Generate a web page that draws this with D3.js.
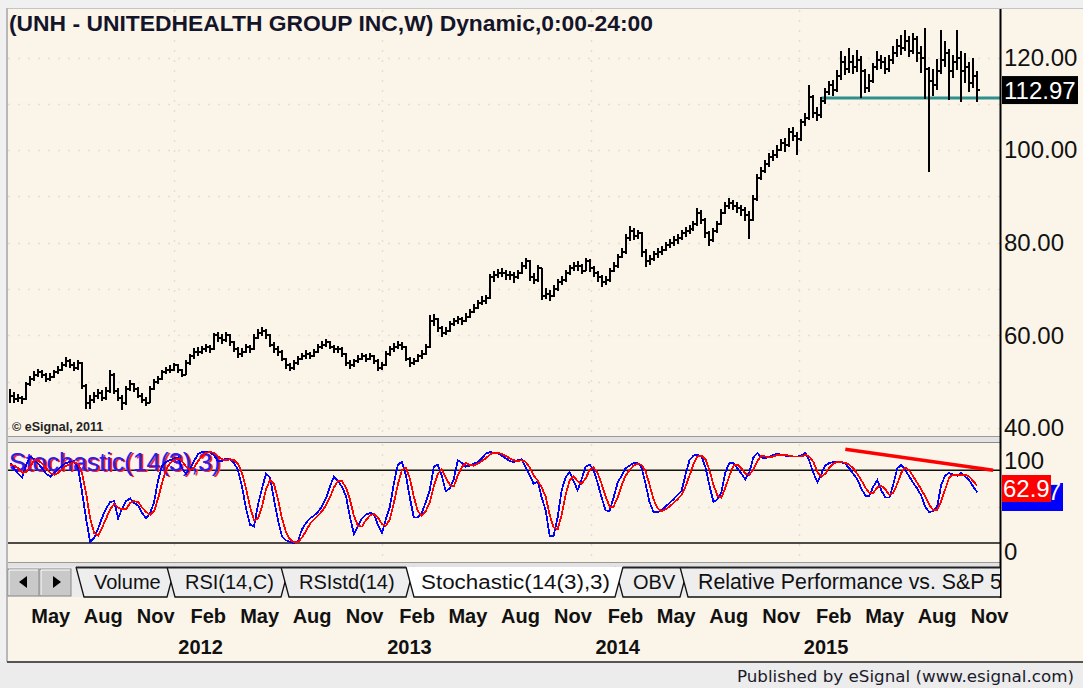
<!DOCTYPE html>
<html><head><meta charset="utf-8">
<script src="https://cdn.jsdelivr.net/npm/d3@7"></script>
<style>
html,body{margin:0;padding:0;background:#f0f0f0;}
svg{display:block;}
</style></head>
<body>
<svg id="chart" width="1083" height="688"></svg>
<script>
// ---------------- DATA ----------------
const firstWeek = "2011-03-21";          // Monday of first weekly bar
const closes = [
47.0,46.3,46.5,46.2,49.5,50.5,51.5,52.0,51.5,50.5,
51.0,52.0,52.5,53.5,54.5,53.5,53.0,54.0,49.0,45.5,
46.0,47.0,47.5,46.5,48.0,51.5,48.0,46.5,45.5,48.5,
49.5,48.5,47.0,46.0,45.5,48.5,50.0,50.5,52.0,52.5,
52.5,53.5,52.5,51.5,54.0,55.5,56.5,56.5,57.0,57.5,
57.0,60.0,59.5,59.0,60.0,58.5,57.0,56.0,56.5,57.5,
57.0,59.5,60.5,61.0,60.0,58.0,57.0,56.5,55.0,53.5,
53.0,54.0,55.0,55.5,56.0,55.5,56.5,57.5,58.0,58.5,
57.5,57.0,57.0,56.0,54.0,53.5,54.5,55.0,55.5,55.0,
55.5,54.5,53.0,53.5,56.0,57.0,57.5,58.0,57.5,55.0,
54.0,54.5,55.5,56.0,57.5,63.0,63.5,61.5,60.5,61.0,
62.5,63.0,63.5,63.0,64.0,65.0,66.0,67.0,67.5,68.0,
72.5,73.0,73.5,73.5,73.0,73.0,72.5,73.5,75.0,76.0,
72.5,72.0,74.5,68.5,69.0,68.5,70.0,71.5,72.0,73.5,
74.5,75.0,75.0,74.0,76.0,74.5,73.5,72.5,71.5,72.0,
74.0,75.0,77.0,78.0,81.0,82.5,81.5,82.0,78.0,76.0,
76.5,77.5,78.0,78.5,79.5,80.0,80.5,81.0,82.0,82.5,
83.0,84.0,86.5,85.0,82.0,80.5,82.5,84.0,86.5,88.0,
88.5,88.0,87.5,87.0,86.0,85.0,89.5,94.0,95.5,97.0,
98.5,99.0,100.0,101.5,101.0,104.0,103.0,102.5,106.0,107.0,
111.5,108.0,107.5,110.5,112.5,114.0,113.0,116.0,119.0,117.5,
119.0,118.0,119.5,117.0,113.5,115.0,118.0,119.5,119.0,117.5,
119.5,121.0,122.5,122.0,123.5,121.5,124.0,121.0,120.0,117.5,
115.0,114.0,117.0,119.5,121.0,117.0,119.0,120.0,117.0,118.0,
114.5,116.0,112.97];
const highs = [
48.5,47.8,47.3,47.0,50.0,51.2,52.2,52.8,52.6,51.8,
51.8,52.6,53.3,54.2,55.3,55.0,54.2,54.6,54.2,49.5,
47.2,47.8,48.5,48.2,48.8,52.6,51.8,48.6,47.2,49.0,
50.3,49.8,48.8,47.5,46.6,49.0,50.6,51.2,52.6,53.2,
53.5,54.0,53.8,52.8,54.6,56.0,57.2,57.4,57.8,58.2,
58.0,60.6,60.8,60.2,60.8,60.2,58.8,57.4,57.2,58.2,
58.0,60.3,61.3,61.8,61.4,60.2,58.5,57.6,56.8,55.2,
54.0,54.6,55.6,56.2,56.8,56.5,57.0,58.2,58.8,59.2,
58.8,58.0,57.8,57.4,56.2,54.6,55.0,55.8,56.2,56.0,
56.3,55.8,54.8,54.2,56.6,57.8,58.3,58.8,58.6,57.8,
55.4,55.2,56.0,56.8,58.2,64.3,64.6,63.8,62.0,61.8,
63.2,63.8,64.2,64.0,64.8,65.6,66.8,67.6,68.4,68.8,
73.2,74.0,74.3,74.6,74.2,73.8,73.6,74.2,75.8,76.8,
76.2,73.4,75.2,74.6,70.2,69.8,70.8,72.2,72.8,74.2,
75.2,75.8,76.0,75.4,76.8,76.4,75.0,74.0,73.0,72.8,
74.6,75.8,77.6,78.8,81.8,83.6,83.2,82.8,82.4,78.6,
77.4,78.2,78.8,79.4,80.2,80.8,81.4,81.8,82.8,83.4,
83.8,84.8,87.6,87.0,85.4,82.6,83.2,84.8,87.2,88.8,
89.6,89.2,88.8,88.2,87.8,86.8,90.4,94.8,96.4,97.8,
99.4,100.0,101.0,102.4,102.6,104.8,105.0,104.0,106.8,108.0,
114.0,111.8,109.4,111.4,113.4,115.0,115.2,117.2,121.5,120.4,
122.0,120.6,121.6,120.4,117.6,116.4,118.8,121.4,120.6,120.2,
120.6,122.4,124.0,124.8,126.0,124.6,125.2,124.6,122.4,126.4,
118.0,117.6,119.6,126.0,123.6,121.8,120.6,126.0,121.4,121.0,
119.0,119.8,117.0];
const lows = [
45.3,45.5,45.6,45.2,46.0,49.0,50.2,51.0,50.8,50.0,
50.2,50.8,51.6,52.3,53.2,53.0,52.2,52.6,48.4,44.0,
44.2,45.3,46.3,45.8,46.0,47.6,47.3,45.8,43.8,45.0,
48.0,47.8,46.5,45.4,44.8,45.3,48.3,49.5,50.3,51.6,
51.8,52.2,51.8,51.0,51.5,53.6,55.0,55.6,56.0,56.4,
56.3,56.8,58.6,58.2,58.6,57.8,56.4,55.2,55.4,56.2,
56.3,56.8,59.2,59.8,59.3,57.4,56.2,55.5,54.4,52.8,
52.2,52.6,53.6,54.6,55.0,54.8,55.3,56.3,57.0,57.5,
57.0,56.3,56.2,55.4,53.4,52.8,53.2,54.0,54.6,54.2,
54.6,53.8,52.3,52.5,53.3,55.6,56.5,57.0,56.8,54.4,
53.2,53.6,54.2,55.0,55.8,57.3,62.0,60.8,59.6,60.0,
60.8,62.0,62.5,62.2,62.8,63.8,64.8,65.8,66.5,66.8,
67.8,71.6,72.4,72.6,72.0,72.0,71.4,72.2,73.2,74.4,
71.8,71.0,71.6,67.6,67.8,67.4,68.2,69.6,70.8,71.6,
73.0,73.8,74.0,73.2,73.8,73.6,72.6,71.6,70.4,70.8,
71.6,73.6,74.6,76.6,77.6,80.4,80.6,80.8,77.0,74.8,
75.2,76.0,76.8,77.4,78.2,78.8,79.4,79.8,80.6,81.2,
81.8,82.6,83.6,84.0,81.0,79.4,80.2,82.2,83.8,86.2,
87.2,87.0,86.4,85.8,84.6,80.8,84.6,89.0,93.6,95.0,
96.4,97.6,98.4,99.8,99.6,100.6,102.0,99.0,102.0,105.2,
106.4,107.0,106.2,107.0,110.0,111.8,111.6,112.6,115.2,116.2,
116.6,116.4,116.8,111.3,112.4,112.6,114.4,117.2,117.6,116.4,
116.8,118.6,120.2,120.6,121.4,120.2,120.8,119.0,116.6,111.0,
95.3,111.6,113.0,116.4,118.0,110.8,115.6,117.4,110.4,114.6,
112.6,113.4,110.3];
// Stochastic(14(3),3): %K (blue) and %D (red)
const stochK = [
88,82,76,72,86,95,92,87,82,76, 73,77,81,85,88,89,90,82,55,26,
1,6,16,28,38,45,46,27,38,46, 49,44,41,33,27,33,45,69,85,89,
91,93,94,82,76,82,90,98,100,100, 100,96,90,90,93,92,88,80,62,38,
20,18,42,60,76,72,48,25,7,3, 1,0,2,15,22,27,30,34,40,49,
62,73,68,62,52,29,10,18,27,31, 33,32,20,11,26,40,65,86,89,75,
50,28,28,33,45,58,84,86,74,57, 60,70,91,88,84,85,87,89,93,98,
100,99,99,96,93,90,89,91,92,83, 74,65,68,50,36,8,8,28,58,72,
78,68,58,70,84,86,80,66,50,36, 35,50,66,74,82,85,88,88,83,65,
45,34,34,36,40,44,48,53,57,75, 91,96,97,95,83,63,45,48,56,78,
88,88,82,76,70,78,94,99,94,93, 95,97,98,97,96,95,95,95,96,99,
90,77,67,76,85,88,89,89,89,87, 82,76,70,60,52,52,62,69,58,50,
50,64,82,86,80,73,66,60,52,40, 34,35,40,64,74,77,75,74,77,73,
69,62,55.7];
const stochD = [
86,85,82,77,78,84,91,91,87,82, 77,75,77,81,85,87,89,87,76,54,
27,11,8,17,27,37,43,39,37,37, 44,46,45,39,34,31,35,49,66,81,
88,91,93,90,84,80,83,90,96,99, 100,99,95,92,91,92,91,87,77,60,
40,25,27,40,59,69,65,48,27,12, 4,1,1,6,13,21,26,30,35,41,
50,61,68,68,61,48,30,19,18,25, 30,32,28,21,19,26,44,64,80,83,
71,51,35,30,35,45,62,76,81,72, 64,62,74,83,88,86,85,87,90,93,
97,99,99,98,96,93,91,90,91,89, 83,74,69,61,51,31,17,15,31,53,
69,73,68,65,71,80,83,77,65,51, 40,40,50,63,74,80,85,87,86,79,
64,48,38,35,37,40,44,48,53,62, 74,87,95,96,92,80,64,52,50,61,
74,85,86,82,76,75,81,90,96,95, 94,95,97,97,97,96,95,95,95,97,
95,89,78,73,76,83,87,89,89,88, 86,82,76,69,61,55,55,61,63,59,
53,55,65,77,83,80,73,66,59,51, 42,36,36,46,59,72,75,75,75,75,
73,68,62.9];
const priceTicks = [40, 60, 80, 100, 120];
const priceGrid = [40, 50, 60, 70, 80, 90, 100, 110, 120];
const stochTicks = [100, 0];
const stochLevels = [80, 0];
const stochGrid = [40];
const monthTicks = ["2011-05-01","2011-08-01","2011-11-01","2012-02-01","2012-05-01","2012-08-01","2012-11-01",
  "2013-02-01","2013-05-01","2013-08-01","2013-11-01","2014-02-01","2014-05-01","2014-08-01","2014-11-01",
  "2015-02-01","2015-05-01","2015-08-01","2015-11-01"];
const monthLabels = ["May","Aug","Nov","Feb","May","Aug","Nov","Feb","May","Aug","Nov","Feb","May","Aug","Nov","Feb","May","Aug","Nov"];
const yearTicks = ["2012-01-01","2013-01-01","2014-01-01","2015-01-01"];
const yearLabels = ["2012","2013","2014","2015"];
const supportLevel = 111.25;      // teal horizontal line
const supportFromWeek = 203;
const trendWeeks = [209, 246];    // red trend line on the stochastic
const trendValues = [103, 80];
const tabs = ["Volume","RSI(14,C)","RSIstd(14)","Stochastic(14(3),3)","OBV","Relative Performance vs. S&P 500"];
const activeTab = 3;
const title = "(UNH - UNITEDHEALTH GROUP INC,W) Dynamic,0:00-24:00";

// ---------------- LAYOUT ----------------
const W = 1083, H = 688;
const L = 8, R = 1000;
const priceTop = 10, priceBottom = 436;
const stochTop = 444, stochBottom = 563;
const tabY0 = 567, tabY1 = 597, slant = 8;
const tabLefts = [76, 167, 281, 406, 615, 680];
const cream = "#fbf5e9";
const font = "'Liberation Sans', Arial, sans-serif";

const parse = d3.utcParse("%Y-%m-%d");
const start = parse(firstWeek);
const dates = closes.map((_, i) => d3.utcMonday.offset(start, i));
const x = d3.scaleUtc().domain([parse("2011-03-17"), parse("2015-12-19")]).range([L, R]);
const y = d3.scaleLinear().domain([40, 120]).range([428, 57.5]);
const ys = d3.scaleLinear().domain([0, 100]).range([543, 452]);

const svg = d3.select("#chart");
svg.append("rect").attr("width", W).attr("height", H).attr("fill", "#f0f0f0");
svg.append("rect").attr("x", L).attr("y", 9).attr("width", W - L).attr("height", 653).attr("fill", cream);
svg.append("line").attr("x1", 6).attr("x2", W).attr("y1", 8.5).attr("y2", 8.5).attr("stroke", "#c4c4c4");
svg.append("line").attr("x1", 7).attr("x2", 7).attr("y1", 8).attr("y2", 662).attr("stroke", "#b8b8b8").attr("stroke-width", 2);

const defs = svg.append("defs");
defs.append("clipPath").attr("id", "cp").append("rect").attr("x", L).attr("y", priceTop).attr("width", R - L).attr("height", priceBottom - priceTop);
defs.append("clipPath").attr("id", "cs").append("rect").attr("x", L).attr("y", stochTop).attr("width", R - L).attr("height", stochBottom - stochTop);
defs.append("clipPath").attr("id", "ct").append("rect").attr("x", L).attr("y", tabY0 - 2).attr("width", R - L).attr("height", tabY1 - tabY0 + 4);

// ---- price panel ----
const gp = svg.append("g").attr("clip-path", "url(#cp)");
const gridStyle = s => s.attr("stroke", "#e4dfd4").attr("stroke-width", 1.5).attr("stroke-dasharray", "2,8");
gp.selectAll("line.hg").data(priceGrid).join("line").attr("class", "hg")
  .attr("x1", L).attr("x2", R).attr("y1", d => Math.round(y(d)) + 0.5).attr("y2", d => Math.round(y(d)) + 0.5).call(gridStyle);
gp.selectAll("line.vg").data(yearTicks.map(parse)).join("line").attr("class", "vg")
  .attr("x1", d => Math.round(x(d)) + 0.5).attr("x2", d => Math.round(x(d)) + 0.5).attr("y1", priceTop).attr("y2", priceBottom).call(gridStyle);

gp.append("line").attr("x1", x(dates[supportFromWeek])).attr("x2", R)
  .attr("y1", y(supportLevel)).attr("y2", y(supportLevel)).attr("stroke", "#2f8f8c").attr("stroke-width", 3);

const bars = gp.append("g").attr("stroke", "#000").attr("stroke-width", 2).attr("shape-rendering", "crispEdges");
dates.forEach((d, i) => {
  const cx = Math.round(x(d));
  bars.append("line").attr("x1", cx).attr("x2", cx).attr("y1", y(highs[i])).attr("y2", y(lows[i]));
  if (i > 0) bars.append("line").attr("x1", cx - 2).attr("x2", cx).attr("y1", Math.round(y(closes[i - 1]))).attr("y2", Math.round(y(closes[i - 1])));
  bars.append("line").attr("x1", cx).attr("x2", cx + 3).attr("y1", Math.round(y(closes[i]))).attr("y2", Math.round(y(closes[i])));
});

svg.append("text").attr("x", 9).attr("y", 31).attr("font-family", font).attr("font-weight", "bold")
  .attr("font-size", 22.4).attr("fill", "#14142a").attr("textLength", 644).attr("lengthAdjust", "spacingAndGlyphs").text(title);
svg.append("text").attr("x", 12).attr("y", 431).attr("font-family", font).attr("font-weight", "bold")
  .attr("font-size", 12.5).attr("fill", "#222").text("\u00A9 eSignal, 2011");

// separators
function splitter(y0) {
  svg.append("rect").attr("x", L).attr("y", y0).attr("width", R - L).attr("height", 7).attr("fill", "#e2e2e2");
  svg.append("line").attr("x1", L).attr("x2", R).attr("y1", y0 + 0.5).attr("y2", y0 + 0.5).attr("stroke", "#9a9a9a");
  svg.append("line").attr("x1", L).attr("x2", R).attr("y1", y0 + 6.5).attr("y2", y0 + 6.5).attr("stroke", "#8a8a8a");
}
splitter(priceBottom);

// ---- stochastic panel ----
const gs = svg.append("g").attr("clip-path", "url(#cs)");
gs.selectAll("line.hg").data(stochGrid).join("line").attr("class", "hg")
  .attr("x1", L).attr("x2", R).attr("y1", d => Math.round(ys(d)) + 0.5).attr("y2", d => Math.round(ys(d)) + 0.5).call(gridStyle);
gs.selectAll("line.vg").data(yearTicks.map(parse)).join("line").attr("class", "vg")
  .attr("x1", d => Math.round(x(d)) + 0.5).attr("x2", d => Math.round(x(d)) + 0.5).attr("y1", stochTop).attr("y2", stochBottom).call(gridStyle);
gs.selectAll("line.lvl").data(stochLevels).join("line").attr("class", "lvl")
  .attr("x1", L).attr("x2", R).attr("y1", d => ys(d)).attr("y2", d => ys(d)).attr("stroke", "#111").attr("stroke-width", 1.6);

// indicator name: red and blue copies overprinted, as in the source
const stochName = gs.append("g").attr("font-family", font).attr("font-size", 25);
stochName.append("text").attr("x", 11).attr("y", 472).attr("fill", "#ff2020").text("Stochastic(14(3),3)");
stochName.append("text").attr("x", 9).attr("y", 471).attr("fill", "#2020ff").text("Stochastic(14(3),3)");

const line = d3.line().x((d, i) => x(dates[i])).y(d => ys(d));
gs.append("path").datum(stochK).attr("d", line).attr("fill", "none").attr("stroke", "#0000ff").attr("stroke-width", 1.8).attr("shape-rendering", "crispEdges");
gs.append("path").datum(stochD).attr("d", line).attr("fill", "none").attr("stroke", "#ff0000").attr("stroke-width", 1.8).attr("shape-rendering", "crispEdges");
gs.append("line")
  .attr("x1", x(d3.utcMonday.offset(start, trendWeeks[0]))).attr("y1", ys(trendValues[0]))
  .attr("x2", x(d3.utcMonday.offset(start, trendWeeks[1]))).attr("y2", ys(trendValues[1]))
  .attr("stroke", "#ff0000").attr("stroke-width", 3.5);
splitter(stochBottom - 1);

// ---- right axes ----
svg.append("line").attr("x1", R + 0.5).attr("x2", R + 0.5).attr("y1", 9).attr("y2", tabY1 + 1).attr("stroke", "#000").attr("stroke-width", 2);
const ax = svg.append("g").attr("transform", `translate(${R},0)`)
  .call(d3.axisRight(y).tickValues(priceTicks).tickFormat(d3.format(".2f")).tickSize(0).tickPadding(4));
ax.select(".domain").remove();
ax.selectAll("text").attr("font-family", font).attr("font-size", 24).attr("fill", "#111");
const axs = svg.append("g").attr("transform", `translate(${R},0)`)
  .call(d3.axisRight(ys).tickValues(stochTicks).tickFormat(d3.format("d")).tickSize(0).tickPadding(4));
axs.select(".domain").remove();
axs.selectAll("text").attr("font-family", font).attr("font-size", 24).attr("fill", "#111").attr("dy", "0.68em");

// value boxes
const lastC = closes[closes.length - 1];
svg.append("rect").attr("x", R + 2).attr("y", y(lastC) - 14).attr("width", 76).attr("height", 28).attr("fill", "#000");
svg.append("text").attr("x", R + 4).attr("y", y(lastC) + 9).attr("font-family", font).attr("font-size", 24)
  .attr("fill", "#fff").text(d3.format(".2f")(lastC));
const lastK = stochK[stochK.length - 1], lastD = stochD[stochD.length - 1];
const kBox = svg.append("g");
kBox.append("rect").attr("x", R + 2).attr("y", 483).attr("width", 61).attr("height", 28).attr("fill", "#0000ff");
kBox.append("text").attr("x", R + 61).attr("y", 500).attr("text-anchor", "end").attr("font-family", font).attr("font-size", 24)
  .attr("fill", "#fff").text(d3.format(".1f")(lastK));
svg.append("rect").attr("x", R + 2).attr("y", 475).attr("width", 49).attr("height", 27).attr("fill", "#ff0000");
svg.append("text").attr("x", R + 3).attr("y", 497).attr("font-family", font).attr("font-size", 24)
  .attr("fill", "#fff").text(d3.format(".1f")(lastD));

// ---- tab bar ----
svg.append("rect").attr("x", L).attr("y", tabY0).attr("width", R - L).attr("height", tabY1 - tabY0).attr("fill", "#ebebeb");
const gt = svg.append("g").attr("clip-path", "url(#ct)");
const order = tabs.map((t, i) => i).filter(i => i !== activeTab).concat([activeTab]);
order.forEach(i => {
  const tl = tabLefts[i];
  const tr = i < tabs.length - 1 ? tabLefts[i + 1] + slant : R + 40;
  const act = i === activeTab;
  gt.append("path")
    .attr("d", `M${tl},${tabY0}L${tl + slant},${tabY1}L${tr - slant},${tabY1}L${tr},${tabY0}`)
    .attr("fill", act ? "#ffffff" : "#eeeeee").attr("stroke", "#111").attr("stroke-width", 1.3);
  const t = gt.append("text").attr("x", tl + (act ? 15 : 18)).attr("y", 589).attr("font-family", font)
    .attr("font-size", i === tabs.length - 1 ? 21.3 : 20).attr("fill", "#111").text(tabs[i]);
  if (act) t.attr("textLength", 189).attr("lengthAdjust", "spacingAndGlyphs");
});
gt.append("line").attr("x1", tabLefts[0]).attr("x2", tabLefts[activeTab]).attr("y1", tabY0 + 0.5).attr("y2", tabY0 + 0.5).attr("stroke", "#222").attr("stroke-width", 2);
gt.append("line").attr("x1", tabLefts[activeTab + 1] + slant).attr("x2", R).attr("y1", tabY0 + 0.5).attr("y2", tabY0 + 0.5).attr("stroke", "#222").attr("stroke-width", 2);
// scroll buttons
[8, 40].forEach(bx => {
  svg.append("rect").attr("x", bx).attr("y", 569).attr("width", 31).attr("height", 27).attr("fill", "#c9c9c9").attr("stroke", "#888");
  svg.append("path").attr("d", `M${bx + 1},595 L${bx + 1},570 L${bx + 30},570`).attr("fill", "none").attr("stroke", "#fff");
});
svg.append("path").attr("d", "M19,582 L27,576 L27,588 Z").attr("fill", "#000");
svg.append("path").attr("d", "M61,582 L53,576 L53,588 Z").attr("fill", "#000");

// ---- x axis labels ----
const gm = svg.append("g").attr("transform", "translate(17,0)");
gm.selectAll("text").data(monthTicks.map(parse)).join("text")
  .attr("x", d => x(d)).attr("y", 623).attr("text-anchor", "middle")
  .attr("font-family", font).attr("font-weight", "bold").attr("font-size", 20).attr("fill", "#111")
  .text((d, i) => monthLabels[i]);
const gy = svg.append("g").attr("transform", "translate(27,0)");
gy.selectAll("text").data(yearTicks.map(parse)).join("text")
  .attr("x", d => x(d)).attr("y", 654).attr("text-anchor", "middle")
  .attr("font-family", font).attr("font-weight", "bold").attr("font-size", 20).attr("fill", "#111")
  .text((d, i) => yearLabels[i]);

// ---- footer ----
svg.append("rect").attr("x", 0).attr("y", 662).attr("width", W).attr("height", H - 662).attr("fill", "#ececec");
svg.append("line").attr("x1", 7).attr("x2", W).attr("y1", 662).attr("y2", 662).attr("stroke", "#555").attr("stroke-width", 2);
svg.append("text").attr("x", 1074).attr("y", 682).attr("text-anchor", "end")
  .attr("font-family", "'DejaVu Sans', Verdana, sans-serif").attr("font-size", 15).attr("fill", "#1a1a2a")
  .attr("textLength", 337).attr("lengthAdjust", "spacingAndGlyphs").text("Published by eSignal (www.esignal.com)");
</script>
</body></html>
